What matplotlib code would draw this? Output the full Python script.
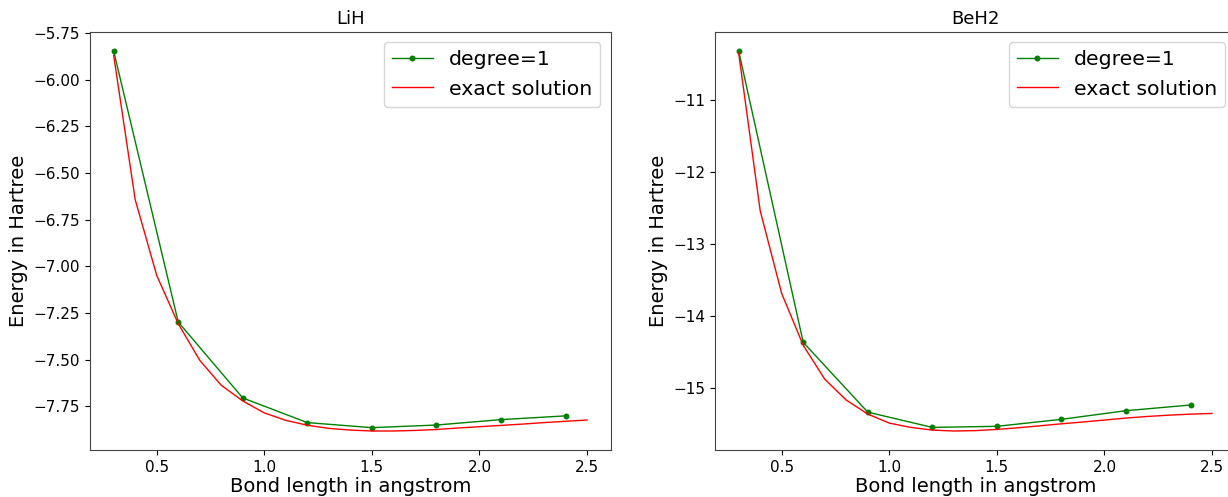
import matplotlib
matplotlib.use("Agg")
import matplotlib.pyplot as plt

# ---- data ----
x_deg = [0.3, 0.6, 0.9, 1.2, 1.5, 1.8, 2.1, 2.4]
x_exact = [0.3, 0.4, 0.5, 0.6, 0.7, 0.8, 0.9, 1.0, 1.1, 1.2, 1.3, 1.4,
           1.5, 1.6, 1.7, 1.8, 1.9, 2.0, 2.1, 2.2, 2.3, 2.4, 2.5]

lih_deg = [-5.846, -7.298, -7.705, -7.837, -7.864, -7.850, -7.821, -7.801]
lih_exact = [-5.869, -6.642, -7.048, -7.307, -7.503, -7.637, -7.721, -7.785,
             -7.825, -7.851, -7.868, -7.877, -7.882, -7.882, -7.879, -7.874,
             -7.866, -7.859, -7.852, -7.845, -7.837, -7.830, -7.823]

beh2_deg = [-10.322, -14.369, -15.338, -15.550, -15.535, -15.438, -15.318, -15.239]
beh2_exact = [-10.35, -12.54, -13.69, -14.41, -14.88, -15.17, -15.365, -15.49,
              -15.55, -15.587, -15.600, -15.595, -15.578, -15.555, -15.528,
              -15.500, -15.475, -15.448, -15.420, -15.398, -15.380, -15.366,
              -15.356]

titles = ["LiH", "BeH2"]
xlabel = "Bond length in angstrom"
ylabel = "Energy in Hartree"
legend_labels = ["degree=1", "exact solution"]

W, H = 1228, 497
fig = plt.figure(figsize=(W / 100, H / 100), dpi=100)

rects = [
    [90 / W, (H - 450) / H, 520.7 / W, 418 / H],
    [715 / W, (H - 450) / H, 520.7 / W, 418 / H],
]
datasets = [(lih_deg, lih_exact), (beh2_deg, beh2_exact)]

for rect, title, (deg, exact) in zip(rects, titles, datasets):
    ax = fig.add_axes(rect)
    ax.plot(x_deg, deg, color="green", marker=".", markersize=6.5,
            linewidth=1, label=legend_labels[0])
    ax.plot(x_exact, exact, color="red", linewidth=1, label=legend_labels[1])
    ax.set_title(title, fontsize=13)
    ax.set_xlabel(xlabel, fontsize=14, labelpad=2)
    ax.set_ylabel(ylabel, fontsize=14)
    ax.tick_params(labelsize=11)
    ax.set_xticks([0.5, 1.0, 1.5, 2.0, 2.5])
    for s in ax.spines.values():
        s.set_color("#444444")
    ax.legend(loc="upper right", fontsize=14.7)

fig.savefig("out.png", dpi=100)
